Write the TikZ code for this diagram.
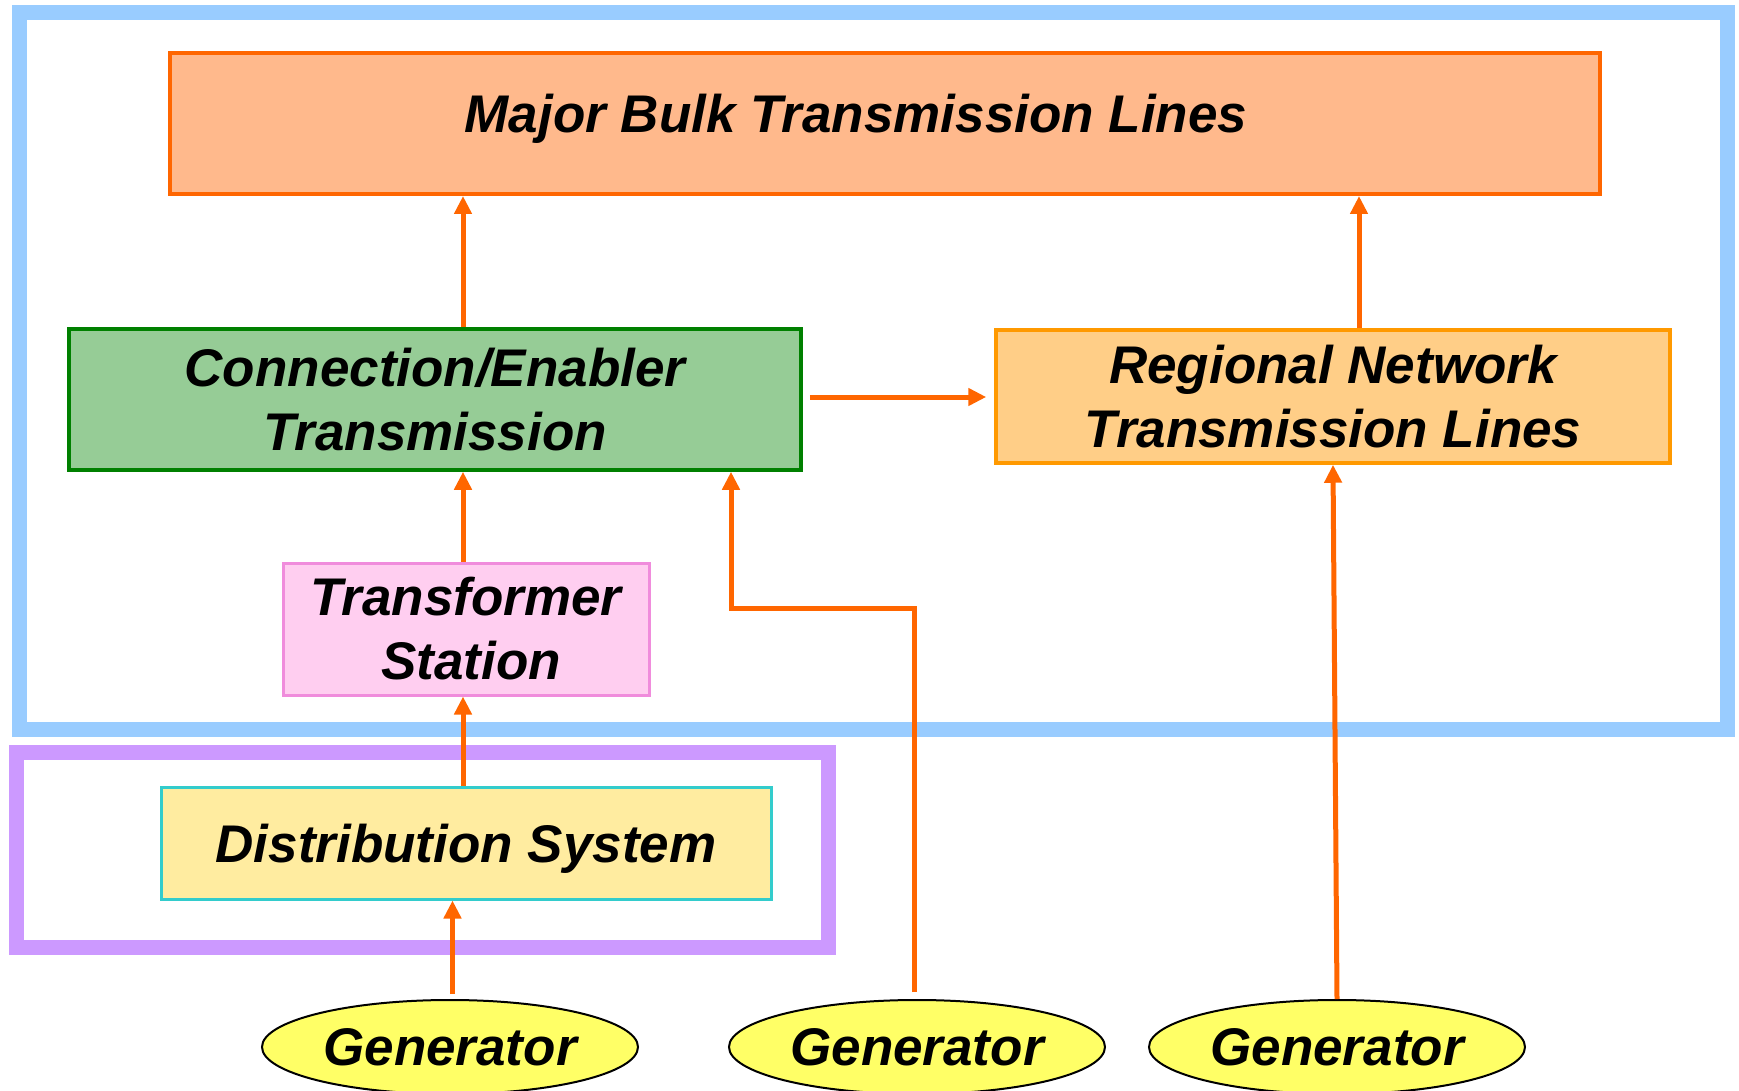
\documentclass[tikz,border=0pt]{standalone}
\usepackage{fontspec}
\setmainfont{Liberation Sans}
\usetikzlibrary{arrows.meta,shapes.geometric}

\definecolor{frameblue}{RGB}{153,204,255}
\definecolor{framepurple}{RGB}{204,153,255}
\definecolor{wire}{RGB}{255,102,0}
\definecolor{majorfill}{RGB}{255,185,140}
\definecolor{connfill}{RGB}{150,204,150}
\definecolor{conndraw}{RGB}{0,128,0}
\definecolor{regfill}{RGB}{255,206,135}
\definecolor{regdraw}{RGB}{255,153,0}
\definecolor{trfill}{RGB}{255,206,240}
\definecolor{trdraw}{RGB}{240,140,220}
\definecolor{distfill}{RGB}{255,236,160}
\definecolor{distdraw}{RGB}{51,204,204}
\definecolor{genfill}{RGB}{255,255,102}

\begin{document}
\begin{tikzpicture}[x=1pt,y=-1pt,
  txt/.style={font=\fontsize{53}{64}\selectfont\bfseries\itshape, align=center},
  boxnode/.style={rectangle, txt, inner sep=0pt},
  gen/.style={ellipse, draw=black, line width=2pt, fill=genfill, txt,
              minimum width=376pt, minimum height=94pt, inner sep=0pt},
  arr/.style={draw=wire, line width=5pt, -{Triangle[length=18pt,width=17pt]}},
  frame/.style={line width=15pt}]
\useasboundingbox (0,0) rectangle (1739,1091);

% enclosing frames
\draw[frame, draw=frameblue] (19,13) rectangle (1727,729);
\draw[frame, draw=framepurple] (16.5,752) rectangle (828,947);

% blocks
\node[boxnode, draw=wire, line width=4pt, fill=majorfill,
      minimum width=1430pt, minimum height=141pt] (major) at (885,123.5) {};
\node[txt, anchor=base] (majortext) at (856,133) {Major Bulk Transmission Lines};

\node[boxnode, draw=conndraw, line width=3.5pt, fill=connfill,
      minimum width=732pt, minimum height=141pt] (conn) at (435,399.5)
      {Connection/Enabler\\Transmission};
\node[boxnode, draw=regdraw, line width=3.5pt, fill=regfill,
      minimum width=674pt, minimum height=133pt] (reg) at (1333,396.5)
      {Regional Network\\Transmission Lines};
\node[boxnode, draw=trdraw, line width=3pt, fill=trfill,
      minimum width=366pt, minimum height=132pt] (tr) at (466,629)
      {Transformer\\\hspace*{10pt}Station};
\node[boxnode, draw=distdraw, line width=3pt, fill=distfill, text depth=0pt,
      minimum width=610pt, minimum height=112pt] (dist) at (466,843)
      {Distribution System};

% generators
\node[gen] (g1) at (450,1047) {Generator};
\node[gen] (g2) at (917,1047) {Generator};
\node[gen] (g3) at (1337,1047) {Generator};

% routing points
\coordinate (xa) at (463,0);
\coordinate (xb) at (1359,0);
\coordinate (xc) at (452.5,0);
\coordinate (hy) at (0,397);
\coordinate (bend) at (914,608);
\coordinate (bendb) at (731,608);

% connectors
\draw[arr] (conn.north -| xa) -- (major.south -| xa);
\draw[arr] (reg.north -| xb) -- (major.south -| xb);
\draw[arr, shorten <=7pt, shorten >=8pt] (conn.east |- hy) -- (reg.west |- hy);
\draw[arr] (tr.north -| xa) -- (conn.south -| xa);
\draw[arr] (dist.north -| xa) -- (tr.south -| xa);
\draw[arr, shorten <=5pt] (g1.north -| xc) -- (dist.south -| xc);
\draw[arr, shorten <=7pt] (g2.north -| bend) -- (bend) -- (bendb) -- (conn.south -| bendb);
\draw[arr] (g3.north) -- (reg.south);
\end{tikzpicture}
\end{document}
